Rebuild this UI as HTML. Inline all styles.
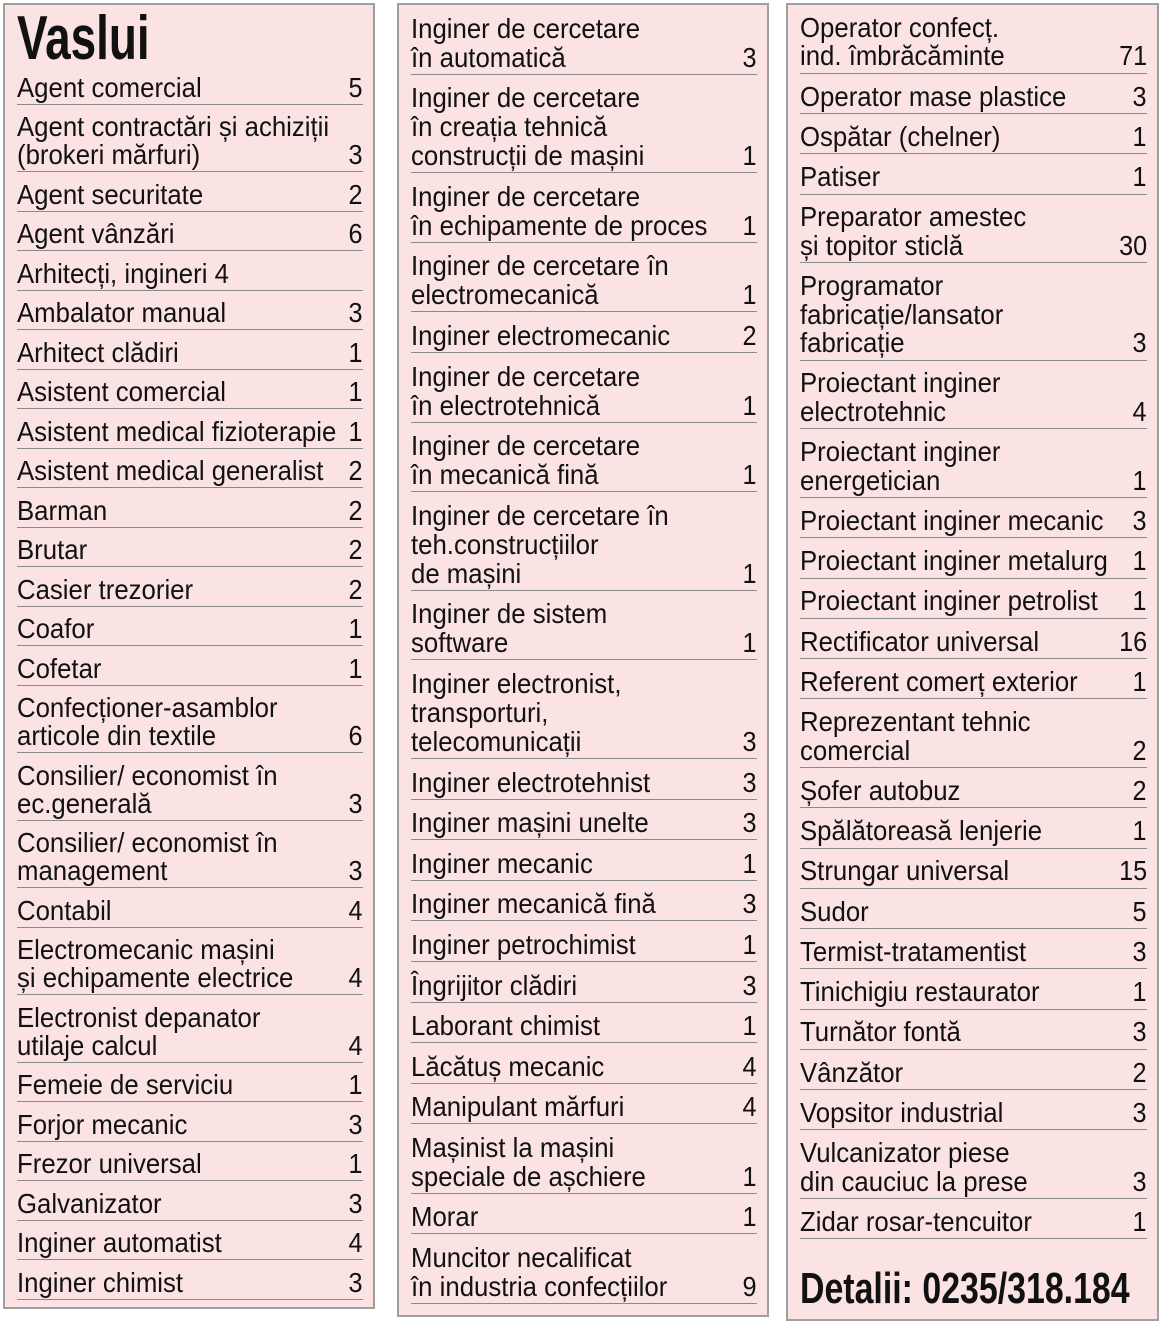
<!DOCTYPE html>
<html><head><meta charset="utf-8">
<style>
html,body{margin:0;padding:0;background:#fff;}
body{width:1173px;height:1330px;position:relative;overflow:hidden;font-family:"Liberation Sans Narrow","Liberation Sans",sans-serif;color:#111;}
.panel{position:absolute;background:#fbe3e3;border:2px solid #a0a0a0;box-sizing:border-box;padding:0 10px 0 12px;}
.row{display:flex;justify-content:space-between;align-items:flex-end;border-bottom:1px solid #8a8a8a;padding:8.5px 0 2px 0;font-size:28px;line-height:28px;}
#c2 .row{line-height:29px;padding-top:8.6px;}
#c3 .row{line-height:28.5px;padding-top:8.75px;}
.row .t{white-space:pre;display:inline-block;transform:scaleX(0.92);transform-origin:left bottom;width:0;overflow:visible;}
.row .n{text-align:right;padding-left:6px;display:inline-block;transform:scaleX(0.9);transform-origin:right bottom;}
.title{font-weight:bold;font-size:62px;line-height:56px;padding-top:6px;height:54px;transform:scaleX(0.74);transform-origin:left top;}
.det{font-weight:bold;font-size:44px;line-height:40px;margin-top:30px;white-space:nowrap;transform:scaleX(0.77);transform-origin:left top;}
</style></head><body>
<div class="panel" id="c1" style="left:3px;top:3px;width:372px;height:1306px;"><div class="title">Vaslui</div></div>
<div class="panel" id="c2" style="left:397px;top:3px;width:372px;height:1314px;"></div>
<div class="panel" id="c3" style="left:786px;top:3px;width:373px;height:1318px;"></div>
<script>
const col1=[["Agent comercial","5"],["Agent contractări și achiziții\n(brokeri mărfuri)","3"],["Agent securitate","2"],["Agent vânzări","6"],["Arhitecți, ingineri 4",""],["Ambalator manual","3"],["Arhitect clădiri","1"],["Asistent comercial","1"],["Asistent medical fizioterapie","1"],["Asistent medical generalist","2"],["Barman","2"],["Brutar","2"],["Casier trezorier","2"],["Coafor","1"],["Cofetar","1"],["Confecționer-asamblor\narticole din textile","6"],["Consilier/ economist în\nec.generală","3"],["Consilier/ economist în\nmanagement","3"],["Contabil","4"],["Electromecanic mașini\nși echipamente electrice","4"],["Electronist depanator\nutilaje calcul","4"],["Femeie de serviciu","1"],["Forjor mecanic","3"],["Frezor universal","1"],["Galvanizator","3"],["Inginer automatist","4"],["Inginer chimist","3"]];
const col2=[["Inginer de cercetare\nîn automatică","3"],["Inginer de cercetare\nîn creația tehnică\nconstrucții de mașini","1"],["Inginer de cercetare\nîn echipamente de proces","1"],["Inginer de cercetare în\nelectromecanică","1"],["Inginer electromecanic","2"],["Inginer de cercetare\nîn electrotehnică","1"],["Inginer de cercetare\nîn mecanică fină","1"],["Inginer de cercetare în\nteh.construcțiilor\nde mașini","1"],["Inginer de sistem\nsoftware","1"],["Inginer electronist,\ntransporturi,\ntelecomunicații","3"],["Inginer electrotehnist","3"],["Inginer mașini unelte","3"],["Inginer mecanic","1"],["Inginer mecanică fină","3"],["Inginer petrochimist","1"],["Îngrijitor clădiri","3"],["Laborant chimist","1"],["Lăcătuș mecanic","4"],["Manipulant mărfuri","4"],["Mașinist la mașini\nspeciale de așchiere","1"],["Morar","1"],["Muncitor necalificat\nîn industria confecțiilor","9"]];
const col3=[["Operator confecț.\nind. îmbrăcăminte","71"],["Operator mase plastice","3"],["Ospătar (chelner)","1"],["Patiser","1"],["Preparator amestec\nși topitor sticlă","30"],["Programator\nfabricație/lansator\nfabricație","3"],["Proiectant inginer\nelectrotehnic","4"],["Proiectant inginer\nenergetician","1"],["Proiectant inginer mecanic","3"],["Proiectant inginer metalurg","1"],["Proiectant inginer petrolist","1"],["Rectificator universal","16"],["Referent comerț exterior","1"],["Reprezentant tehnic\ncomercial","2"],["Șofer autobuz","2"],["Spălătoreasă lenjerie","1"],["Strungar universal","15"],["Sudor","5"],["Termist-tratamentist","3"],["Tinichigiu restaurator","1"],["Turnător fontă","3"],["Vânzător","2"],["Vopsitor industrial","3"],["Vulcanizator piese\ndin cauciuc la prese","3"],["Zidar rosar-tencuitor","1"]];
function fill(id,data){
  const p=document.getElementById(id);
  data.forEach(d=>{
    const r=document.createElement('div');r.className='row';
    
    
    const t=document.createElement('span');t.className='t';t.textContent=d[0];
    
    
    const n=document.createElement('span');n.className='n';n.textContent=d[1];
    
    
    r.appendChild(t);r.appendChild(n);p.appendChild(r);
  });
}
fill('c1',col1);fill('c2',col2);fill('c3',col3);
const det=document.createElement('div');det.className='det';det.textContent='Detalii: 0235/318.184';


document.getElementById('c3').appendChild(det);
</script>
</body></html>
